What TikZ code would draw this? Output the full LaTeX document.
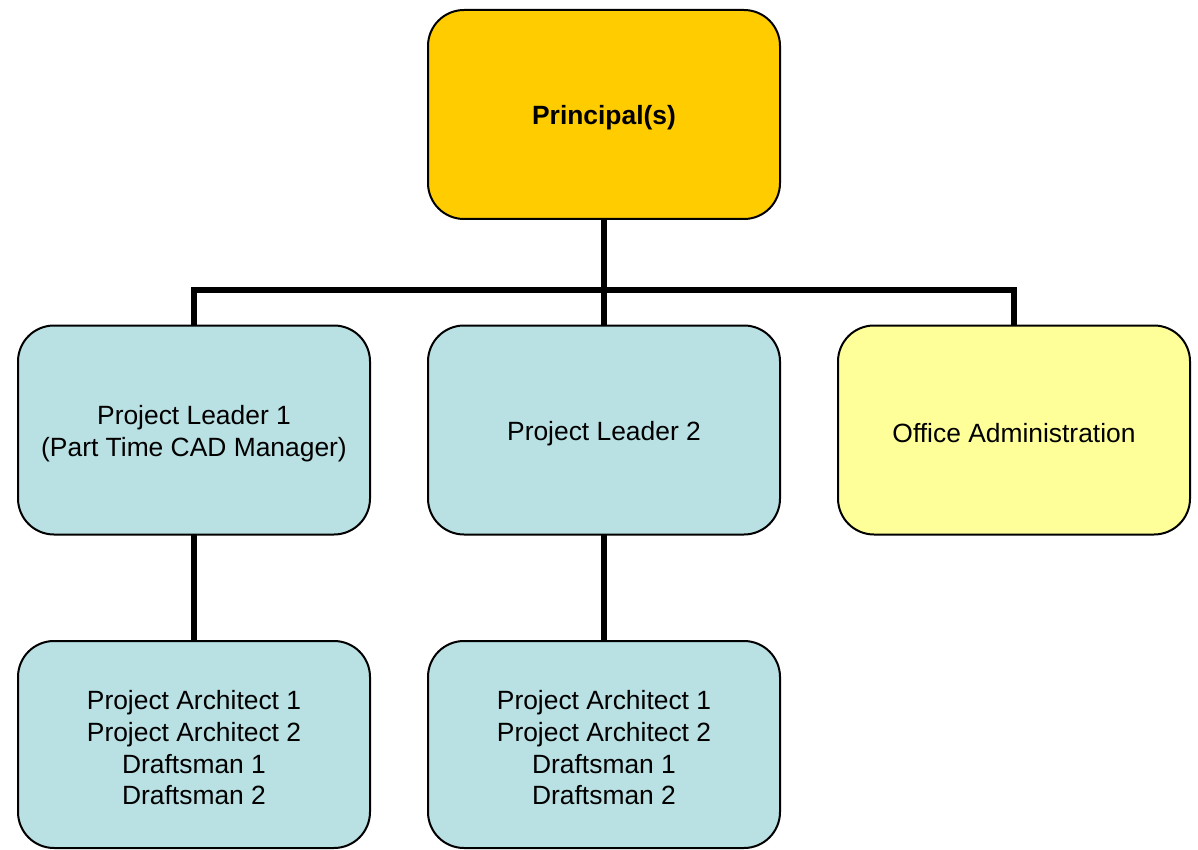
\documentclass[tikz,border=0pt]{standalone}
\usepackage{fontspec}
\setmainfont{Liberation Sans}
\usetikzlibrary{backgrounds}
\definecolor{gold}{HTML}{FFCC00}
\definecolor{lblue}{HTML}{B9E0E3}
\definecolor{lyellow}{HTML}{FFFF99}
\tikzset{
  box/.style={draw=black, line width=2pt, rounded corners=36pt, minimum width=352pt, minimum height=209pt, inner sep=0pt, outer sep=0pt},
  txt/.style={align=center, inner sep=0pt, yshift=-3.5pt, font=\fontsize{26.4}{31.7}\selectfont},
  conn/.style={draw=black, line width=5.5pt, line join=miter, line cap=butt}
}
\begin{document}
\begin{tikzpicture}[x=1pt,y=-1pt]
\useasboundingbox (0,0) rectangle (1198,850);
\node[box, fill=gold, label={[txt, font=\fontsize{26.4}{31.7}\selectfont\bfseries]center:Principal(s)}] (P) at (604,114.5) {};
\node[box, fill=lblue, label={[txt]center:{Project Leader 1\\(Part Time CAD Manager)}}] (PL1) at (194,430) {};
\node[box, fill=lblue, label={[txt]center:Project Leader 2}] (PL2) at (604,430) {};
\node[box, fill=lyellow, label={[txt]center:Office Administration}] (OA) at (1014,430) {};
\node[box, fill=lblue, minimum height=207pt, label={[txt]center:{Project Architect 1\\Project Architect 2\\Draftsman 1\\Draftsman 2}}] (A1) at (194,744.5) {};
\node[box, fill=lblue, minimum height=207pt, label={[txt]center:{Project Architect 1\\Project Architect 2\\Draftsman 1\\Draftsman 2}}] (A2) at (604,744.5) {};
\coordinate (bus) at (604,290);
\begin{scope}[on background layer]
\draw[conn] (P.south) -- (PL2.north);
\draw[conn] (PL1.north) |- (OA.north |- bus) -- (OA.north);
\draw[conn] (PL1.south) -- (A1.north);
\draw[conn] (PL2.south) -- (A2.north);
\end{scope}
\end{tikzpicture}
\end{document}
